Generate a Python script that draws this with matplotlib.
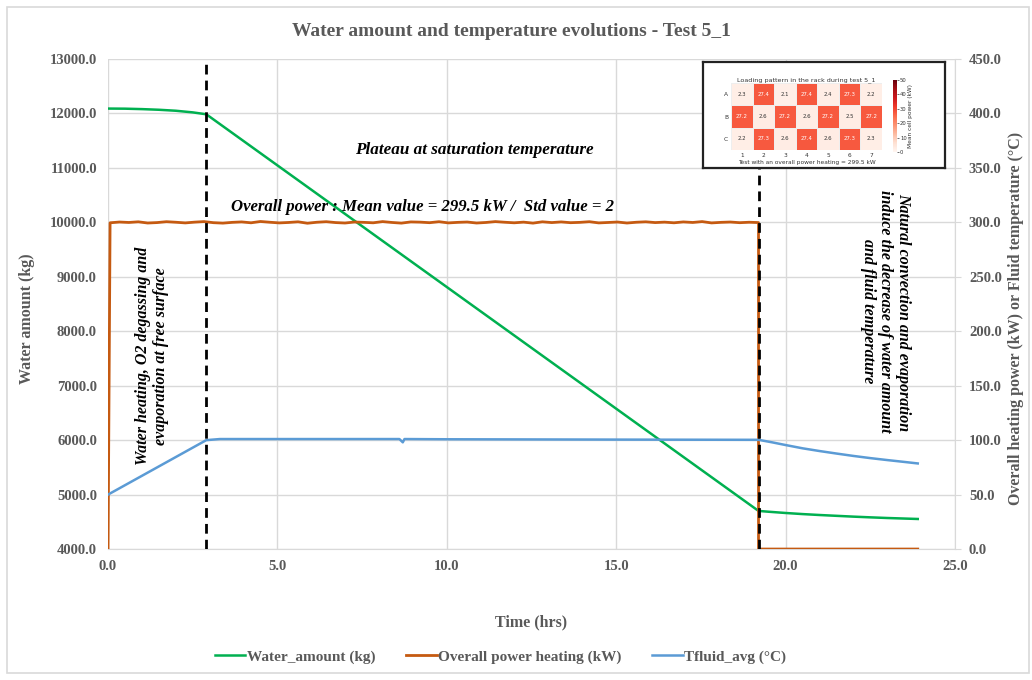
"""Water amount and temperature evolutions - Test 5_1"""

import matplotlib
matplotlib.use("Agg")
import matplotlib.pyplot as plt
import numpy as np
from matplotlib.patches import Rectangle

# data
water_t = [0.0, 0.5, 1.0, 1.5, 2.0, 2.5, 2.9, 19.2, 19.5, 20.0, 20.5, 21.0,
           21.5, 22.0, 22.5, 23.0, 23.5, 23.9]
water_kg = [12090, 12088, 12080, 12068, 12050, 12020, 11985, 4700, 4685, 4662,
            4642, 4625, 4610, 4595, 4582, 4570, 4560, 4552]

temp_t = [0.0, 2.9, 3.3, 5.0, 8.6, 8.7, 8.75, 10.0, 15.0, 19.2, 19.6, 20.0,
          20.5, 21.0, 21.5, 22.0, 22.5, 23.0, 23.5, 23.9]
temp_c = [50, 100, 101, 101, 101, 98, 101, 100.8, 100.5, 100.3, 98, 95.5,
          92.5, 90, 87.7, 85.5, 83.5, 81.7, 80, 78.6]

power_kw = [299.6, 300.3, 299.9, 300.5, 299.4, 299.8, 300.6, 300.1, 299.5, 300.2,
            300.7, 299.7, 299.3, 300.0, 300.4, 299.6, 300.8, 300.1, 299.5, 299.9,
            300.5, 299.2, 300.1, 300.6, 299.8, 299.4, 300.3, 300.0, 299.6, 300.7,
            299.9, 299.3, 300.4, 300.2, 299.7, 300.6, 299.5, 300.0, 300.3, 299.4,
            299.9, 300.7, 300.1, 299.6, 300.2, 299.3, 300.5, 299.8, 300.4, 299.7,
            300.0, 300.6, 299.5, 299.9, 300.3, 299.4, 300.1, 300.5, 299.8, 300.2,
            299.6, 300.4, 299.9, 300.7, 299.5, 300.0, 300.3, 299.7, 300.1, 299.8]
power_start, power_end, test_end = 0.06, 19.2, 23.9

phase_marks = [2.9, 19.2]

rack_rows = ["A", "B", "C"]
rack_cols = ["1", "2", "3", "4", "5", "6", "7"]
rack_power = [[2.3, 27.4, 2.1, 27.4, 2.4, 27.3, 2.2],
              [27.2, 2.6, 27.2, 2.6, 27.2, 2.5, 27.2],
              [2.2, 27.3, 2.6, 27.4, 2.6, 27.3, 2.3]]

GREEN = "#00B050"
BROWN = "#C55A11"
BLUE = "#5B9BD5"
GREY_TEXT = "#595959"
GRID = "#D9D9D9"
SERIF = "Liberation Serif"

fig = plt.figure(figsize=(10.32, 6.8), dpi=100)
fig.patches.append(Rectangle((0.007, 0.01), 0.99, 0.98, transform=fig.transFigure,
                             fill=False, edgecolor=GRID, linewidth=1.2))

ax = fig.add_axes([0.1047, 0.1926, 0.8207, 0.7206])
ax2 = ax.twinx()

ax.plot(water_t, water_kg, color=GREEN, lw=1.8, label="Water_amount (kg)")

pt = np.concatenate([[0.0, power_start], np.linspace(power_start, power_end, len(power_kw)),
                     [power_end, test_end]])
pv = np.concatenate([[0.0, power_kw[0]], power_kw, [0.0, 0.0]])
ax2.plot(pt, pv, color=BROWN, lw=2.0, label="Overall power heating (kW)")
ax2.plot(temp_t, temp_c, color=BLUE, lw=1.8, label="Tfluid_avg (\u00b0C)")

for xm in phase_marks:
    ax2.axvline(xm, color="black", lw=2.0, ls=(0, (3.5, 2.2)), zorder=5)

ax.set_xlim(0, 25)
ax.set_ylim(4000, 13000)
ax2.set_ylim(0, 450)
ax.set_xticks(np.arange(0, 25.1, 5))
ax.set_yticks(np.arange(4000, 13001, 1000))
ax2.set_yticks(np.arange(0, 451, 50))
ax.xaxis.set_major_formatter(lambda v, _: f"{v:.1f}")
ax.yaxis.set_major_formatter(lambda v, _: f"{v:.1f}")
ax2.yaxis.set_major_formatter(lambda v, _: f"{v:.1f}")

ax.grid(True, color=GRID, lw=1.0)
ax.set_axisbelow(True)
for a in (ax, ax2):
    for s in a.spines.values():
        s.set_visible(False)
    for lab in a.get_xticklabels() + a.get_yticklabels():
        lab.set_fontfamily(SERIF)
        lab.set_fontweight("bold")
ax.spines["bottom"].set_visible(True)
ax.spines["bottom"].set_color(GRID)
ax2.spines["right"].set_visible(True)
ax2.spines["right"].set_color(GRID)
ax.tick_params(axis="both", length=0, labelsize=10.5, labelcolor=GREY_TEXT, pad=8)
ax2.tick_params(axis="y", length=4, color=GRID, labelsize=10.5, labelcolor=GREY_TEXT, pad=6)

lab_kw = dict(fontfamily=SERIF, fontweight="bold", color=GREY_TEXT, fontsize=11.5)
ax.set_xlabel("Time (hrs)", **lab_kw)
ax.set_ylabel("Water amount (kg)", **lab_kw)
ax2.set_ylabel("Overall heating power (kW) or Fluid temperature (\u00b0C)", **lab_kw)
ax.xaxis.set_label_coords(0.5, -0.133)
ax.yaxis.set_label_coords(-0.086, 0.471)
ax2.yaxis.set_label_coords(1.062, 0.471)

fig.text(0.496, 0.953, "Water amount and temperature evolutions - Test 5_1",
         ha="center", va="center", fontfamily=SERIF, fontweight="bold",
         fontsize=14, color=GREY_TEXT)

note_kw = dict(fontfamily=SERIF, fontweight="bold", style="italic", color="black",
               transform=ax.transData)
ax.text(10.82, 11330, "Plateau at saturation temperature", ha="center", va="center",
        fontsize=12.3, **note_kw)
ax.text(3.64, 10290, "Overall power : Mean value = 299.5 kW /  Std value = 2",
        ha="left", va="center", fontsize=12.1, **note_kw)
ax.text(1.29, 7543, "Water heating, O2 degassing and\nevaporation at free surface",
        ha="center", va="center", rotation=90, multialignment="center",
        fontsize=11.5, linespacing=1.15, **note_kw)
ax.text(22.94, 8360, "Natural convection and evaporation\ninduce the decrease of water amount\n"
        "and fluid temperature", ha="center", va="center", rotation=-90,
        multialignment="center", fontsize=11.5, linespacing=1.12, **note_kw)

h1, l1 = ax.get_legend_handles_labels()
h2, l2 = ax2.get_legend_handles_labels()
fig.legend(h1 + h2, l1 + l2, loc="center", bbox_to_anchor=(0.485, 0.034), ncol=3,
           frameon=False, handlelength=2.0, handletextpad=0.1, columnspacing=2.0,
           prop={"family": SERIF, "weight": "bold", "size": 11}, labelcolor=GREY_TEXT)

# inset: loading pattern in the rack
box = fig.add_axes([0.681, 0.753, 0.2345, 0.156])
box.set_xticks([])
box.set_yticks([])
box.set_facecolor("white")
for s in box.spines.values():
    s.set_linewidth(1.6)
    s.set_color("#222222")
box.set_zorder(10)

hm = fig.add_axes([0.7083, 0.7794, 0.1463, 0.0985])
hm.set_zorder(11)
vals = np.array(rack_power)
img = hm.pcolormesh(vals, cmap="Reds", vmin=0, vmax=50, edgecolors="#eeeeee", linewidth=0.4)
hm.set_xlim(0, len(rack_cols))
hm.set_ylim(len(rack_rows), 0)
hm.set_xticks(np.arange(len(rack_cols)) + 0.5)
hm.set_xticklabels(rack_cols)
hm.set_yticks(np.arange(len(rack_rows)) + 0.5)
hm.set_yticklabels(rack_rows, rotation=0)
hm.tick_params(length=0, labelsize=4.2, labelcolor="#333333", pad=2)
for s in hm.spines.values():
    s.set_visible(False)
for i, row in enumerate(rack_power):
    for j, v in enumerate(row):
        hm.text(j + 0.5, i + 0.5, f"{v}", ha="center", va="center", fontsize=3.9,
                color="white" if v > 20 else "#333333")
hm.set_title("Loading pattern in the rack during test 5_1", fontsize=4.6, pad=1.5,
             color="#333333")
hm.set_xlabel("Test with an overall power heating = 299.5 kW", fontsize=4.2,
              labelpad=1.5, color="#333333")

cax = fig.add_axes([0.8653, 0.7765, 0.0035, 0.106])
cax.set_zorder(11)
cb = fig.colorbar(img, cax=cax, ticks=[0, 10, 20, 30, 40, 50])
cb.outline.set_visible(False)
cb.ax.tick_params(labelsize=3.8, length=1.5, width=0.4, pad=1, labelcolor="#333333")
cb.set_label("Mean cell power (kW)", fontsize=4.2, labelpad=1, color="#333333")

fig.savefig("out.png", dpi=100, facecolor="white")
